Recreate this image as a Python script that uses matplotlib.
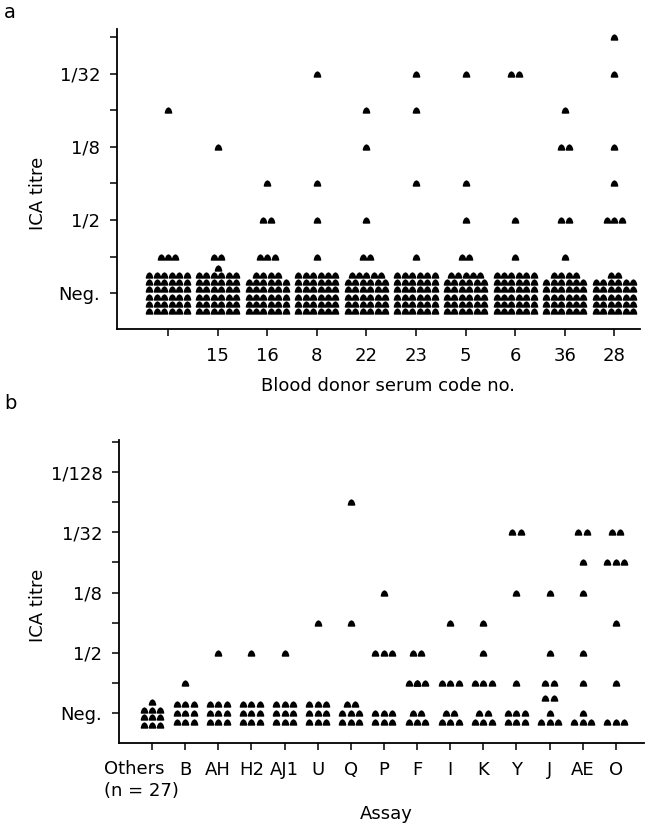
import matplotlib
matplotlib.use('Agg')
import matplotlib.pyplot as plt
from matplotlib.path import Path

# ---- panel a: blood donor sera ----
donor_codes = ['', '15', '16', '8', '22', '23', '5', '6', '36', '28']
# negative results, drawn as rows (bottom row first)
donor_neg_rows = [
    [6, 6, 6, 6, 6, 6],
    [6, 6, 6, 6, 6, 6, 1],
    [6, 6, 6, 6, 6, 4],
    [6, 6, 6, 6, 6, 6],
    [6, 6, 6, 6, 6, 5],
    [6, 6, 6, 6, 6, 6],
    [6, 6, 6, 6, 6, 5],
    [6, 6, 6, 6, 6, 6],
    [6, 6, 6, 6, 6, 4],
    [6, 6, 6, 6, 6, 2],
]
# counts at titre 1, 1/2, 1/4, 1/8, 1/16, 1/32, 1/64
donor_titres = [
    [3, 0, 0, 0, 1, 0, 0],
    [2, 0, 0, 1, 0, 0, 0],
    [3, 2, 1, 0, 0, 0, 0],
    [1, 1, 1, 0, 0, 1, 0],
    [2, 1, 0, 1, 1, 0, 0],
    [1, 0, 1, 0, 1, 1, 0],
    [2, 1, 1, 0, 0, 1, 0],
    [1, 1, 0, 0, 0, 2, 0],
    [1, 2, 0, 2, 1, 0, 0],
    [0, 3, 1, 1, 0, 1, 1],
]
titre_labels_a = ['Neg.', '', '1/2', '', '1/8', '', '1/32', '']

# ---- panel b: assays ----
assays = ['Others', 'B', 'AH', 'H2', 'AJ1', 'U', 'Q', 'P', 'F', 'I', 'K', 'Y', 'J', 'AE', 'O']
assay_neg_rows = [
    [3, 3, 3, 1],
    [3, 3, 3],
    [3, 3, 3],
    [3, 3, 3],
    [3, 3, 3],
    [3, 3, 3],
    [3, 3, 2],
    [3, 3],
    [3, 2],
    [3, 2],
    [3, 2],
    [3, 3],
    [3, 1],
    [3, 1],
    [3],
]
# counts at titre 1 ... 1/256
assay_titres = [
    [0, 0, 0, 0, 0, 0, 0, 0, 0],
    [1, 0, 0, 0, 0, 0, 0, 0, 0],
    [0, 1, 0, 0, 0, 0, 0, 0, 0],
    [0, 1, 0, 0, 0, 0, 0, 0, 0],
    [0, 1, 0, 0, 0, 0, 0, 0, 0],
    [0, 0, 1, 0, 0, 0, 0, 0, 0],
    [0, 0, 1, 0, 0, 0, 1, 0, 0],
    [0, 3, 0, 1, 0, 0, 0, 0, 0],
    [3, 2, 0, 0, 0, 0, 0, 0, 0],
    [3, 0, 1, 0, 0, 0, 0, 0, 0],
    [3, 1, 1, 0, 0, 0, 0, 0, 0],
    [1, 0, 0, 1, 0, 2, 0, 0, 0],
    [2, 1, 0, 1, 0, 0, 0, 0, 0],
    [1, 1, 0, 1, 1, 2, 0, 0, 0],
    [1, 0, 1, 0, 3, 2, 0, 0, 0],
]
# extra sera at titre 1 that did not fit on the row
assay_titre1_extra = [0, 0, 0, 0, 0, 0, 0, 0, 1, 0, 0, 0, 2, 0, 0]
titre_labels_b = ['Neg.', '', '1/2', '', '1/8', '', '1/32', '', '1/128', '']

# bell shaped marker like the original stamps
dome = Path([(-1.0, -0.8), (1.0, -0.8), (0.9, -0.35), (0.7, 0.2), (0.4, 0.6),
             (0.0, 0.8), (-0.4, 0.6), (-0.7, 0.2), (-0.9, -0.35), (-1.0, -0.8)],
            closed=True)


def column_points(x, neg_rows, neg_offsets, counts, dx, extra=0, extra_off=0.0):
    xs, ys = [], []
    for n, off in zip(neg_rows, neg_offsets):
        for k in range(n):
            xs.append(x + (k - (n - 1) / 2) * dx)
            ys.append(off)
    for lvl, n in enumerate(counts, start=1):
        for k in range(n):
            xs.append(x + (k - (n - 1) / 2) * dx)
            ys.append(lvl)
    for k in range(extra):
        xs.append(x + (k - (extra - 1) / 2) * dx)
        ys.append(1 + extra_off)
    return xs, ys


def style_axis(ax):
    for s in ['top', 'right']:
        ax.spines[s].set_visible(False)
    for s in ['left', 'bottom']:
        ax.spines[s].set_linewidth(1.3)
    ax.tick_params(direction='out', length=5, width=1.1, labelsize=13)


plt.rcParams['font.family'] = 'DejaVu Sans'
fig = plt.figure(figsize=(6.46, 8.31), dpi=100)

# panel a
ax1 = fig.add_axes([117 / 646, 1 - 329 / 831, 523 / 646, 300 / 831])
neg_off_a = [-0.5, -0.3, -0.1, 0.1, 0.3, 0.5, 0.7]
for i in range(len(donor_codes)):
    xs, ys = column_points(i, donor_neg_rows[i], neg_off_a, donor_titres[i], 0.15)
    ax1.plot(xs, ys, linestyle='none', marker=dome, ms=4.5, color='black')
ax1.set_xlim(-1.028, 9.516)
ax1.set_ylim(-0.98, 7.22)
ax1.set_xticks(range(len(donor_codes)))
ax1.set_xticklabels(donor_codes)
ax1.set_yticks(range(len(titre_labels_a)))
ax1.set_yticklabels(titre_labels_a)
style_axis(ax1)
ax1.tick_params(axis='x', pad=8)
ax1.tick_params(axis='y', pad=7)

# panel b
ax2 = fig.add_axes([119 / 646, 1 - 743 / 831, 525 / 646, 303 / 831])
neg_off_b = [-0.3, 0.0, 0.28]
neg_off_others = [-0.4, -0.12, 0.1, 0.37]
extra_offsets = {'I': 0.2, 'J': -0.5}
for i, name in enumerate(assays):
    offs = neg_off_others if name == 'Others' else neg_off_b
    xs, ys = column_points(i, assay_neg_rows[i], offs, assay_titres[i], 0.255,
                           assay_titre1_extra[i], extra_offsets.get(name, 0.0))
    ax2.plot(xs, ys, linestyle='none', marker=dome, ms=4.5, color='black')
ax2.set_xlim(-0.996, 14.85)
ax2.set_ylim(-1.0, 9.07)
ax2.set_xticks(range(len(assays)))
ax2.set_xticklabels([''] + assays[1:])
ax2.set_yticks(range(len(titre_labels_b)))
ax2.set_yticklabels(titre_labels_b)
style_axis(ax2)
ax2.tick_params(axis='x', pad=8)
ax2.tick_params(axis='y', pad=7)
ax2.text(-1.45, -0.055, 'Others\n(n = 27)', transform=ax2.get_xaxis_transform(),
         ha='left', va='top', fontsize=13, linespacing=1.3, clip_on=False)

# labels
fig.text(38 / 646, 1 - 193 / 831, 'ICA titre', rotation=90, ha='center', va='center', fontsize=13)
fig.text(38 / 646, 1 - 605 / 831, 'ICA titre', rotation=90, ha='center', va='center', fontsize=13)
fig.text(388 / 646, 1 - 386 / 831, 'Blood donor serum code no.', ha='center', va='center', fontsize=13)
fig.text(386 / 646, 1 - 814 / 831, 'Assay', ha='center', va='center', fontsize=13)
fig.text(10 / 646, 1 - 13 / 831, 'a', ha='center', va='center', fontsize=14)
fig.text(10 / 646, 1 - 403 / 831, 'b', ha='center', va='center', fontsize=14)

fig.savefig('out.png', dpi=100, facecolor='white')
